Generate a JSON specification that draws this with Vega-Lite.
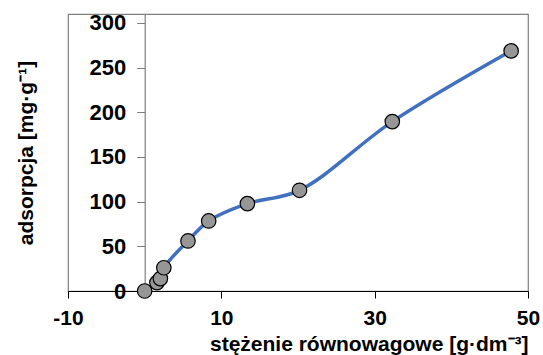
{
  "$schema": "https://vega.github.io/schema/vega-lite/v6.json",
  "width": 460,
  "height": 277,
  "autosize": {"type": "none"},
  "padding": {"left": 68, "top": 14, "right": 15, "bottom": 64},
  "background": "white",
  "config": {
    "view": {"stroke": "#7f7f7f", "strokeWidth": 1.2},
    "font": "Liberation Sans"
  },
  "data": {
    "values": [
      {"c": 0, "a": 0},
      {"c": 1.6, "a": 9.4},
      {"c": 2.05, "a": 13.9},
      {"c": 2.5, "a": 26},
      {"c": 5.65, "a": 56},
      {"c": 8.35, "a": 78.4},
      {"c": 13.4, "a": 97.8},
      {"c": 20.2, "a": 112.7},
      {"c": 32.3, "a": 189.6},
      {"c": 47.8, "a": 268.7}
    ]
  },
  "encoding": {
    "x": {
      "field": "c", "type": "quantitative",
      "scale": {"domain": [-10, 50], "nice": false, "zero": false},
      "axis": {
        "values": [-10, 10, 30, 50],
        "labelExpr": "'' + datum.value",
        "title": "stężenie równowagowe [g·dm⁻³]",
        "titleAnchor": "end",
        "titleFontSize": 21, "titleFontWeight": "bold", "titleColor": "black",
        "titlePadding": 5,
        "labelFontSize": 21, "labelFontWeight": "bold", "labelColor": "black",
        "labelPadding": 9,
        "tickSize": 7, "tickColor": "black", "domainColor": "black", "domainWidth": 1.2,
        "grid": false, "labelFlush": false
      }
    },
    "y": {
      "field": "a", "type": "quantitative",
      "scale": {"domain": [0, 310], "nice": false},
      "axis": {
        "values": [0, 50, 100, 150, 200, 250, 300],
        "offset": -76.7,
        "title": "adsorpcja [mg·g⁻¹]",
        "titleFontSize": 21, "titleFontWeight": "bold", "titleColor": "black",
        "titlePadding": 52,
        "labelFontSize": 22, "labelFontWeight": "bold", "labelColor": "black",
        "labelPadding": 11,
        "tickSize": 8, "tickColor": "#7f7f7f", "domainColor": "#7f7f7f", "domainWidth": 1.2,
        "grid": false
      }
    }
  },
  "layer": [
    {
      "mark": {"type": "line", "interpolate": "catmull-rom", "color": "#4170BE", "strokeWidth": 3.5}
    },
    {
      "mark": {"type": "point", "shape": "circle", "filled": true, "fill": "#969696", "stroke": "black", "strokeWidth": 1.2, "size": 210, "opacity": 1}
    }
  ]
}
